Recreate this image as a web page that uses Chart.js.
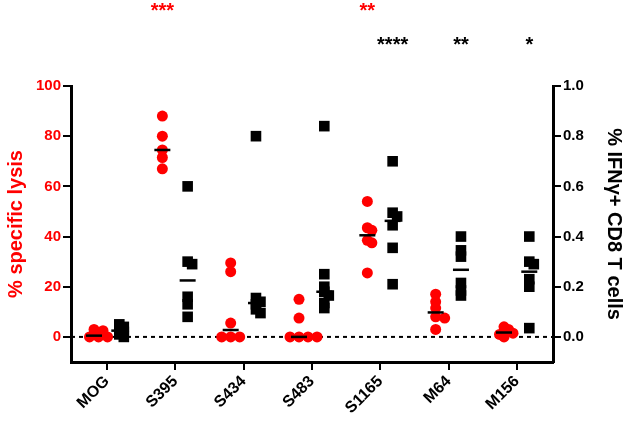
<!DOCTYPE html>
<html>
<head>
<meta charset="utf-8">
<script src="https://cdn.jsdelivr.net/npm/chart.js@4/dist/chart.umd.min.js"></script>
<style>
  body { margin: 0; background: #fff; }
</style>
</head>
<body>
<canvas id="myChart" width="630" height="427"></canvas>
<script>
var categories = ['MOG', 'S395', 'S434', 'S483', 'S1165', 'M64', 'M156'];

// % specific lysis (left axis), one list per category
var lysisMOG = [0, 0, 0, 1, 2.5, 3];
var lysisS395 = [88, 80, 74.5, 71.5, 67];
var lysisS434 = [29.5, 26, 5.5, 0, 0, 0];
var lysisS483 = [15, 7.5, 0, 0, 0, 0];
var lysisS1165 = [54, 43.5, 42.5, 38.5, 37.5, 25.5];
var lysisM64 = [17, 14, 11.5, 8, 7.5, 3];
var lysisM156 = [0, 1, 1.5, 2, 3, 4];

// % IFNg+ CD8 T cells (right axis)
var ifngMOG = [0, 0.01, 0.02, 0.03, 0.04, 0.05];
var ifngS395 = [0.6, 0.3, 0.29, 0.16, 0.13, 0.08];
var ifngS434 = [0.8, 0.155, 0.14, 0.13, 0.11, 0.095];
var ifngS483 = [0.84, 0.25, 0.2, 0.18, 0.165, 0.135, 0.115];
var ifngS1165 = [0.7, 0.495, 0.48, 0.445, 0.355, 0.21];
var ifngM64 = [0.4, 0.345, 0.32, 0.215, 0.185, 0.165];
var ifngM156 = [0.4, 0.3, 0.29, 0.23, 0.2, 0.035];

var lysisTicks = [0, 20, 40, 60, 80, 100];
var ifngTicks = [0, 0.2, 0.4, 0.6, 0.8, 1.0];

var lysisStars = ['', '***', '', '', '**', '', ''];
var ifngStars = ['', '', '', '', '****', '**', '*'];

var lysisGroups = [lysisMOG, lysisS395, lysisS434, lysisS483, lysisS1165, lysisM64, lysisM156];
var ifngGroups = [ifngMOG, ifngS395, ifngS434, ifngS483, ifngS1165, ifngM64, ifngM156];

var RED = '#ff0000';
var redShift = -0.19, blackShift = 0.18;
var xMin = -0.527, xMax = 6.527;

function median(vals) {
  var s = vals.slice().sort(function (a, b) { return a - b; });
  var m = Math.floor(s.length / 2);
  return s.length % 2 ? s[m] : (s[m - 1] + s[m]) / 2;
}

// spread overlapping points sideways, like a column scatter plot
function swarm(vals, center, pxPerUnit) {
  var step = 4.5, minDist = 5, xPx = 68.3;
  var idx = vals.map(function (v, i) { return i; })
    .sort(function (a, b) { return vals[b] - vals[a]; });
  var placed = [];
  var out = new Array(vals.length);
  idx.forEach(function (i) {
    var yp = vals[i] * pxPerUnit;
    var off = 0;
    for (var k = 0; k < 20; k++) {
      off = (k % 2 ? 1 : -1) * Math.ceil(k / 2) * step;
      var ok = placed.every(function (p) {
        return Math.hypot(p.x - off, p.y - yp) >= minDist;
      });
      if (ok) break;
    }
    placed.push({ x: off, y: yp });
    out[i] = { x: center + off / xPx, y: vals[i] };
  });
  return out;
}

var redPoints = [], blackPoints = [], redMedians = [], blackMedians = [];
lysisGroups.forEach(function (g, i) {
  redPoints = redPoints.concat(swarm(g, i + redShift, 2.51));
  redMedians.push({ x: i + redShift, y: median(g) });
});
ifngGroups.forEach(function (g, i) {
  blackPoints = blackPoints.concat(swarm(g, i + blackShift, 251));
  blackMedians.push({ x: i + blackShift, y: median(g) });
});

var starsPlugin = {
  id: 'stars',
  afterDraw: function (chart) {
    var ctx = chart.ctx;
    var x = chart.scales.x;
    ctx.save();
    ctx.font = 'bold 20px "Liberation Sans", Arial, sans-serif';
    ctx.textAlign = 'center';
    ctx.textBaseline = 'top';
    categories.forEach(function (c, i) {
      if (lysisStars[i]) {
        ctx.fillStyle = RED;
        ctx.fillText(lysisStars[i], x.getPixelForValue(i + redShift), 1);
      }
      if (ifngStars[i]) {
        ctx.fillStyle = '#000';
        ctx.fillText(ifngStars[i], x.getPixelForValue(i + blackShift), 35);
      }
    });
    ctx.restore();
  }
};

var tickFont = { family: '"Liberation Sans", Arial, sans-serif', size: 15, weight: 'bold' };
var xTickFont = { family: '"Liberation Sans", Arial, sans-serif', size: 16, weight: 'bold' };
var titleFont = { family: '"Liberation Sans", Arial, sans-serif', size: 20, weight: 'bold' };
var axisGrid = { display: true, drawOnChartArea: false, drawTicks: true, tickLength: 8, color: '#000', lineWidth: 2 };
var axisBorder = { display: true, color: '#000', width: 3 };

Chart.defaults.font.family = '"Liberation Sans", Arial, sans-serif';

var chart = new Chart(document.getElementById('myChart').getContext('2d'), {
  type: 'scatter',
  data: {
    datasets: [
      {
        label: 'lysis median',
        data: redMedians,
        yAxisID: 'y',
        pointStyle: 'line',
        pointRadius: 8,
        borderWidth: 2.5,
        borderColor: '#000',
        backgroundColor: '#000'
      },
      {
        label: 'IFNg median',
        data: blackMedians,
        yAxisID: 'y1',
        pointStyle: 'line',
        pointRadius: 8,
        borderWidth: 2.5,
        borderColor: '#000',
        backgroundColor: '#000'
      },
      {
        label: '% specific lysis',
        data: redPoints,
        yAxisID: 'y',
        pointStyle: 'circle',
        pointRadius: 5.5,
        borderWidth: 0,
        backgroundColor: RED
      },
      {
        label: '% IFNg+ CD8 T cells',
        data: blackPoints,
        yAxisID: 'y1',
        pointStyle: 'rect',
        pointRadius: 7.5,
        borderWidth: 0,
        backgroundColor: '#000'
      },
      {
        type: 'line',
        label: 'zero',
        data: [{ x: xMin, y: 0 }, { x: xMax, y: 0 }],
        yAxisID: 'y',
        borderColor: '#000',
        borderWidth: 2,
        borderDash: [4, 4],
        pointRadius: 0
      }
    ]
  },
  plugins: [starsPlugin],
  options: {
    responsive: false,
    animation: false,
    events: [],
    layout: { padding: { top: 86, left: 0, right: 0, bottom: 0 } },
    plugins: {
      legend: { display: false },
      tooltip: { enabled: false }
    },
    scales: {
      x: {
        type: 'linear',
        min: xMin,
        max: xMax,
        grid: axisGrid,
        border: axisBorder,
        afterBuildTicks: function (axis) {
          axis.ticks = categories.map(function (c, i) { return { value: i }; });
        },
        afterFit: function (scale) { scale.height = 65; },
        ticks: {
          color: '#000',
          font: xTickFont,
          minRotation: 45,
          maxRotation: 45,
          padding: 2,
          callback: function (v) { return categories[v]; }
        }
      },
      y: {
        position: 'left',
        min: -10,
        max: 100,
        grid: axisGrid,
        border: axisBorder,
        afterBuildTicks: function (axis) {
          axis.ticks = lysisTicks.map(function (v) { return { value: v }; });
        },
        afterFit: function (scale) { scale.width = 71; },
        ticks: { color: RED, font: tickFont, padding: 2 },
        title: {
          display: true,
          text: '% specific lysis',
          color: RED,
          font: titleFont,
          padding: { top: 4, bottom: 0 }
        }
      },
      y1: {
        position: 'right',
        min: -0.1,
        max: 1.0,
        grid: axisGrid,
        border: axisBorder,
        afterBuildTicks: function (axis) {
          axis.ticks = ifngTicks.map(function (v) { return { value: v }; });
        },
        afterFit: function (scale) { scale.width = 77; },
        ticks: {
          color: '#000',
          font: tickFont,
          padding: 2,
          callback: function (v) { return v.toFixed(1); }
        },
        title: {
          display: true,
          text: '% IFNγ+ CD8 T cells',
          color: '#000',
          font: titleFont,
          padding: { top: 4, bottom: 0 }
        }
      }
    }
  }
});
</script>
</body>
</html>
